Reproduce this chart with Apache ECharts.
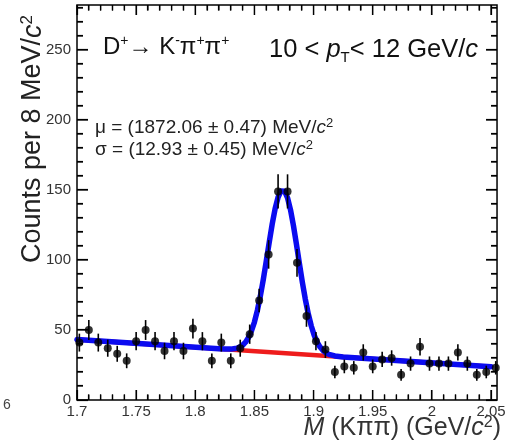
<!DOCTYPE html>
<html><head><meta charset="utf-8">
<script src="https://cdn.jsdelivr.net/npm/echarts@6/dist/echarts.min.js"></script>
<style>html,body{margin:0;padding:0;background:#fff}#c{width:520px;height:440px}</style>
</head><body><div id="c"></div>
<script>
// ---- data ----
const massBins = [1.702,1.710,1.718,1.726,1.734,1.742,1.750,1.758,1.766,1.774,1.782,1.790,1.798,1.806,1.814,1.822,1.830,1.838,1.846,1.854,1.862,1.870,1.878,1.886,1.894,1.902,1.910,1.918,1.926,1.934,1.942,1.950,1.958,1.966,1.974,1.982,1.990,1.998,2.006,2.014,2.022,2.030,2.038,2.046,2.054];
const counts = [41,50,41,37,33,28,42,50,42,35,42,35,51,42,28,41,28,37,47,71,104,149,149,98,60,42,36,20,24,23,34,24,29,30,18,26,38,26,26,26,34,26,18,20,23];
const countErrors = [6.4,7.1,6.4,6.1,5.7,5.3,6.5,7.1,6.5,5.9,6.5,5.9,7.1,6.5,5.3,6.4,5.3,6.1,6.9,8.4,10.2,12.2,12.2,9.9,7.7,6.5,6.0,4.5,4.9,4.8,5.8,4.9,5.4,5.5,4.2,5.1,6.2,5.1,5.1,5.1,5.8,5.1,4.2,4.5,4.8];
const fitMass = [1.700,1.820,1.825,1.830,1.835,1.8375,1.840,1.8425,1.845,1.8475,1.850,1.8525,1.855,1.8575,1.860,1.8625,1.865,1.8675,1.870,1.8725,1.874,1.8755,1.878,1.8805,1.883,1.8855,1.888,1.8905,1.893,1.8955,1.898,1.9005,1.903,1.9055,1.908,1.9105,1.913,1.918,1.925,2.050];
const fitTotal = [43.2,36.55,36.36,36.35,36.95,37.75,39.11,41.30,44.58,49.29,55.69,63.98,74.19,86.08,99.16,112.63,125.49,136.58,144.83,149.35,150.05,149.19,144.39,135.86,124.49,111.35,97.60,84.24,72.08,61.59,53.02,46.35,41.36,37.80,35.33,33.69,32.61,31.46,30.76,23.81];
const bkgMass = [1.700, 2.050];
const bkgValues = [43.2, 23.81];
const xTickValues = [1.7,1.75,1.8,1.85,1.9,1.95,2,2.05];
const xMinorTicks = [1.71,1.72,1.73,1.74,1.76,1.77,1.78,1.79,1.81,1.82,1.83,1.84,1.86,1.87,1.88,1.89,1.91,1.92,1.93,1.94,1.96,1.97,1.98,1.99,2.01,2.02,2.03,2.04];
const yTickValues = [0,50,100,150,200,250];
const yMinorTicks = [10,20,30,40,60,70,80,90,110,120,130,140,160,170,180,190,210,220,230,240,260,270,280];

const FONT = '"Liberation Sans", Arial, sans-serif';
const chart = echarts.init(document.getElementById('c'), null, {renderer:'canvas'});

// axis ranges (the frame extends slightly beyond 2.05 on the right)
const X_MIN = 1.7, X_MAX = 2.05, X_FRAME = 2.0551, Y_MIN = 0, Y_MAX = 282.14;
const xLabel = v => { const s = String(parseFloat(v.toFixed(3))); return xTickValues.some(t => Math.abs(t - v) < 1e-6) ? s : ''; };
const yLabel = v => yTickValues.some(t => Math.abs(t - v) < 1e-6) ? String(Math.round(v)) : '';

// tick series: each item = [tickValue, lengthPx]
const xTickItems = xTickValues.map(v => [v, 10]).concat(xMinorTicks.map(v => [v, 5.5]));
const yTickItems = yTickValues.map(v => [v, 11]).concat(yMinorTicks.map(v => [v, 6]));
function tickSeries(items, side) {
  return {type:'custom', xAxisIndex:0, yAxisIndex:0, z:6, clip:false, silent:true,
    data:items.map(d => d.slice()),
    renderItem:(params, api)=>{
      const v = api.value(0), len = api.value(1);
      let p, q;
      if (side === 'bottom') { p = api.coord([v, Y_MIN]); q = [p[0], p[1] - len]; }
      else if (side === 'top') { p = api.coord([v, Y_MAX]); q = [p[0], p[1] + len]; }
      else if (side === 'left') { p = api.coord([X_MIN, v]); q = [p[0] + len, p[1]]; }
      else { p = api.coord([X_FRAME, v]); q = [p[0] - len, p[1]]; }
      return {type:'line', shape:{x1:p[0], y1:p[1], x2:q[0], y2:q[1]}, style:{stroke:'#000', lineWidth:1.3}};
    }};
}

function rich(size, supSize, pad, fill) {
  return {i:{font:'italic '+size+'px '+FONT, fill:fill},
          sup:{font:supSize+'px '+FONT, fill:fill, padding:[0,0,pad,0]},
          sub:{font:supSize+'px '+FONT, fill:fill, padding:[pad,0,0,0]}};
}
const textEls = [
  {type:'text', x:103, y:47, silent:true, style:{
    text:'D{sup|+}→ K{sup|-}π{sup|+}π{sup|+}', font:'24px '+FONT, fill:'#111',
    align:'left', verticalAlign:'middle', textAlign:'left', textVerticalAlign:'middle', rich:rich(24,14,11,'#111')}},
  {type:'text', x:269, y:50, silent:true, style:{
    text:'10 < {i|p}{sub|T}< 12 GeV/{i|c}', font:'25.5px '+FONT, fill:'#111',
    align:'left', verticalAlign:'middle', textAlign:'left', textVerticalAlign:'middle', rich:rich(25.5,15,16,'#111')}},
  {type:'text', x:95, y:128, silent:true, style:{
    text:'μ = (1872.06 ± 0.47) MeV/{i|c}{sup|2}', font:'19px '+FONT, fill:'#222',
    align:'left', verticalAlign:'middle', textAlign:'left', textVerticalAlign:'middle', rich:rich(19,13,9,'#222')}},
  {type:'text', x:95, y:150, silent:true, style:{
    text:'σ = (12.93 ± 0.45) MeV/{i|c}{sup|2}', font:'19px '+FONT, fill:'#222',
    align:'left', verticalAlign:'middle', textAlign:'left', textVerticalAlign:'middle', rich:rich(19,13,9,'#222')}},
  {type:'text', x:33, y:139, rotation:Math.PI/2, silent:true, style:{
    text:'Counts per 8 MeV/{i|c}{sup|2}', font:'27px '+FONT, fill:'#222',
    align:'center', verticalAlign:'middle', textAlign:'center', textVerticalAlign:'middle', rich:rich(27,17,12,'#222')}},
  {type:'text', x:501, y:428, silent:true, style:{
    text:'{i|M} (Kππ) (GeV/{i|c}{sup|2})', font:'25px '+FONT, fill:'#333',
    align:'right', verticalAlign:'middle', textAlign:'right', textVerticalAlign:'middle', rich:rich(25,16,11,'#333')}},
  {type:'text', x:3, y:405, silent:true, style:{
    text:'6', font:'14px '+FONT, fill:'#444', align:'left', verticalAlign:'middle', textAlign:'left', textVerticalAlign:'middle'}}
];

chart.setOption({
  animation:false,
  backgroundColor:'#fff',
  grid:[{left:77, top:5, width:414, height:395, outerBoundsMode:'none', containLabel:false}],
  xAxis:[
    {type:'value', min:X_MIN, max:X_MAX, interval:0.05,
     axisLine:{show:false}, axisTick:{show:false}, splitLine:{show:false},
     axisLabel:{formatter:xLabel, color:'#333', fontSize:15, fontFamily:FONT, margin:4, hideOverlap:false}}
  ],
  yAxis:[
    {type:'value', min:Y_MIN, max:Y_MAX, interval:50,
     axisLine:{show:false}, axisTick:{show:false}, splitLine:{show:false},
     axisLabel:{formatter:yLabel, color:'#333', fontSize:15, fontFamily:FONT, margin:6, hideOverlap:false}}
  ],
  series:[
    {type:'line', z:2, showSymbol:false, silent:true,
     data:bkgMass.map((m,i)=>[m,bkgValues[i]]),
     lineStyle:{color:'#ee1c1c', width:4.5}},
    {type:'line', z:3, showSymbol:false, silent:true, smooth:false,
     data:fitMass.map((m,i)=>[m,fitTotal[i]]),
     lineStyle:{color:'#0b0bf0', width:5.5, cap:'round', join:'round'}},
    {type:'custom', z:4, clip:false, silent:true,
     data:massBins.map((m,i)=>[m, counts[i]-countErrors[i], counts[i]+countErrors[i]]),
     encode:{x:0, y:[1,2]},
     renderItem:(params, api)=>{
       const lo = api.coord([api.value(0), api.value(1)]);
       const hi = api.coord([api.value(0), api.value(2)]);
       return {type:'line', shape:{x1:lo[0], y1:lo[1], x2:hi[0], y2:hi[1]}, style:{stroke:'#000', lineWidth:1.6}};
     }},
    {type:'scatter', z:5, clip:false, silent:true,
     symbol:'circle', symbolSize:8,
     data:massBins.map((m,i)=>[m,counts[i]]),
     itemStyle:{color:'#000'}},
    // frame box
    {type:'custom', z:6, clip:false, silent:true,
     data:[[X_MIN, Y_MIN, X_FRAME, Y_MAX]],
     renderItem:(params, api)=>{
       const a = api.coord([api.value(0), api.value(1)]);
       const b = api.coord([api.value(2), api.value(3)]);
       return {type:'rect', shape:{x:a[0], y:b[1], width:b[0]-a[0], height:a[1]-b[1]}, style:{fill:'none', stroke:'#000', lineWidth:1.5}};
     }},
    tickSeries(xTickItems, 'bottom'),
    tickSeries(xTickItems, 'top'),
    tickSeries(yTickItems, 'left'),
    tickSeries(yTickItems, 'right')
  ],
  graphic:textEls
});

// second pass: tick marks as graphic lines, positioned through the chart's own axis scales
const crisp = v => Math.round(v - 0.5) + 0.5;
const tickEls = [];
const px = (x, y) => chart.convertToPixel({gridIndex:0}, [x, y]);
xTickItems.forEach(([v, len]) => {
  const b = px(v, Y_MIN), t = px(v, Y_MAX), x = crisp(b[0]);
  tickEls.push({type:'line', z:100, silent:true, shape:{x1:x, y1:b[1], x2:x, y2:b[1]-len}, style:{stroke:'#000', lineWidth:1.2}});
  tickEls.push({type:'line', z:100, silent:true, shape:{x1:x, y1:t[1], x2:x, y2:t[1]+len}, style:{stroke:'#000', lineWidth:1.2}});
});
yTickItems.forEach(([v, len]) => {
  const l = px(X_MIN, v), r = px(X_FRAME, v), y = crisp(l[1]);
  tickEls.push({type:'line', z:100, silent:true, shape:{x1:l[0], y1:y, x2:l[0]+len, y2:y}, style:{stroke:'#000', lineWidth:1.2}});
  tickEls.push({type:'line', z:100, silent:true, shape:{x1:r[0], y1:y, x2:r[0]-len, y2:y}, style:{stroke:'#000', lineWidth:1.2}});
});
chart.setOption({graphic:textEls.concat(tickEls)});
</script></body></html>
